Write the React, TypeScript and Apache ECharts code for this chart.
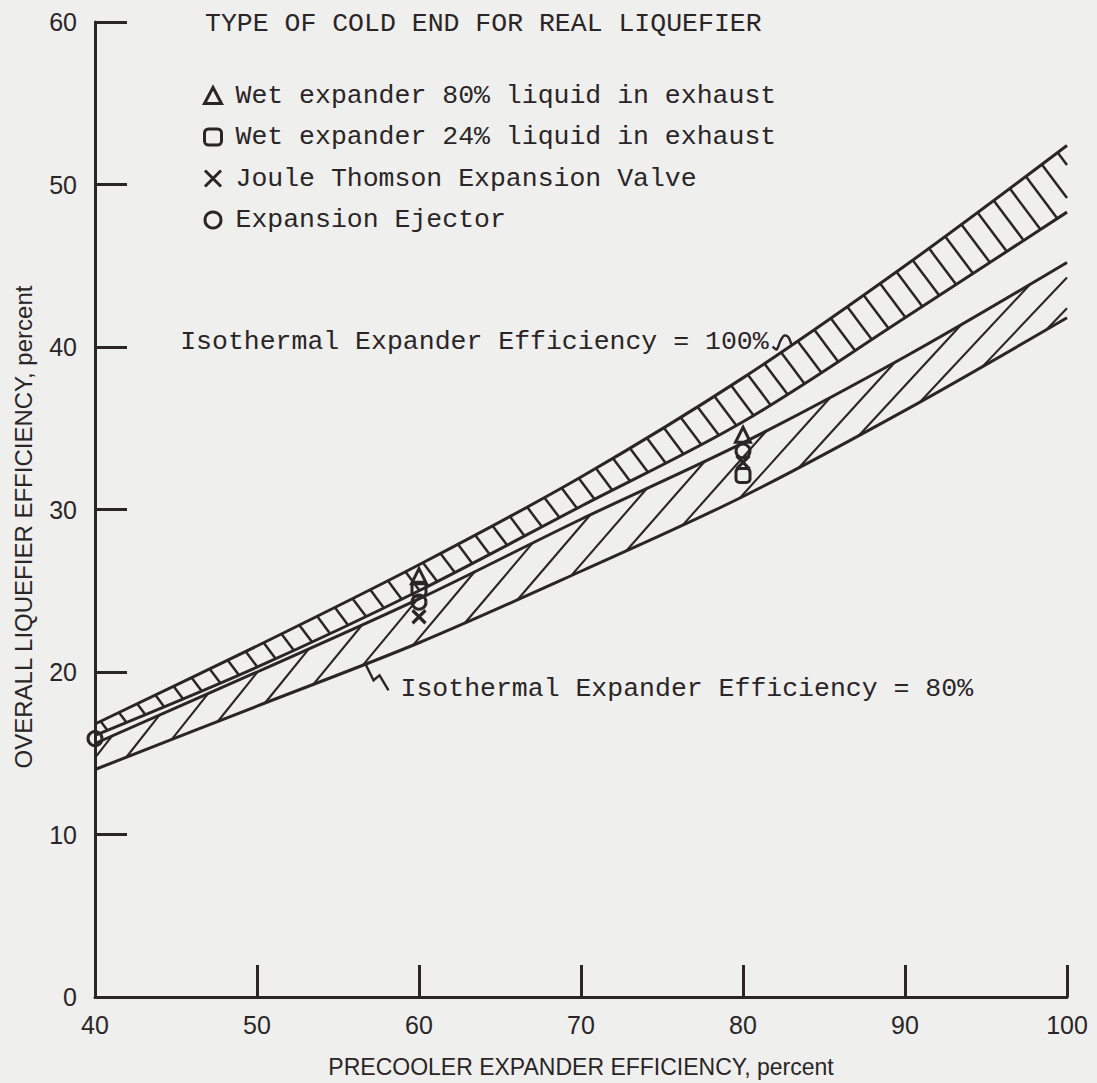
import React, { useEffect, useRef } from 'react';
import * as echarts from 'echarts';

// ---- data ----
const xValues = [40, 50, 60, 70, 80, 90, 100];
// Isothermal expander efficiency = 100% band
const upperTop = [16.8, 21.6, 26.6, 32.0, 38.1, 45.0, 52.4];
const upperBottom = [16.1, 20.3, 25.0, 30.2, 35.4, 41.8, 48.3];
// Isothermal expander efficiency = 80% band
const lowerTop = [15.6, 20.0, 24.5, 29.4, 34.1, 39.4, 45.2];
const lowerBottom = [14.0, 17.9, 21.8, 26.2, 30.8, 36.1, 41.8];

const wet80 = [[60, 25.9], [80, 34.6]];
const wet24 = [[60, 25.1], [80, 32.1]];
const jouleThomson = [[60, 23.4], [80, 32.9]];
const ejector = [[40, 15.9], [60, 24.3], [80, 33.6]];

const seriesNames = [
  'Wet expander 80% liquid in exhaust',
  'Wet expander 24% liquid in exhaust',
  'Joule Thomson Expansion Valve',
  'Expansion Ejector',
];
const titleText = 'TYPE OF COLD END FOR REAL LIQUEFIER';
const xTitle = 'PRECOOLER EXPANDER EFFICIENCY, percent';
const yTitle = 'OVERALL LIQUEFIER EFFICIENCY, percent';
const label100 = 'Isothermal Expander Efficiency = 100%';
const label80 = 'Isothermal Expander Efficiency = 80%';

const INK = '#2a2527';
const BG = '#efefed';
const MONO = "'Liberation Mono', 'DejaVu Sans Mono', monospace";
const NARROW = "'Liberation Sans Narrow', 'Liberation Sans', Arial, sans-serif";

// Catmull-Rom evaluation matching ECharts smooth = 1/3 on uniform x
function curveAt(ys: number[], x: number): number {
  const h = xValues[1] - xValues[0];
  const n = ys.length;
  let i = Math.floor((x - xValues[0]) / h);
  i = Math.max(0, Math.min(n - 2, i));
  const t = (x - xValues[i]) / h;
  const p1 = ys[i];
  const p2 = ys[i + 1];
  const p0 = i > 0 ? ys[i - 1] : 2 * p1 - p2;
  const p3 = i + 2 < n ? ys[i + 2] : 2 * p2 - p1;
  return 0.5 * (2 * p1 + (-p0 + p2) * t + (2 * p0 - 5 * p1 + 4 * p2 - p3) * t * t + (-p0 + 3 * p1 - 3 * p2 + p3) * t * t * t);
}

function solve(f: (x: number) => number, a: number, b: number): number {
  let fa = f(a);
  for (let k = 0; k < 40; k++) {
    const m = (a + b) / 2;
    const fm = f(m);
    if (fm > 0 === fa > 0) {
      a = m;
      fa = fm;
    } else {
      b = m;
    }
  }
  return (a + b) / 2;
}

const zip = (ys: number[]) => xValues.map((x, i) => [x, ys[i]]);

export default function App() {
  const ref = useRef<HTMLDivElement>(null);

  useEffect(() => {
    if (!ref.current) return;
    const chart = echarts.init(ref.current, null, { renderer: 'svg' });

    const hatchRender = (params: any, api: any) => {
      const children: any[] = [];
      const P = (x: number, y: number) => api.coord([x, y]);
      const xLeft = api.coord([40, 0])[0];
      const xRight = api.coord([100, 0])[0];
      // upper band: "\" rungs
      const k = 0.75;
      for (let x = 40.35; x < 100; x += 1.13 - 0.0025 * (x - 40)) {
        const top = P(x, curveAt(upperTop, x));
        const f = (xb: number) => {
          const b = P(xb, curveAt(upperBottom, xb));
          return b[1] - (top[1] + (b[0] - top[0]) / k);
        };
        const xb = solve(f, x, x + 6);
        let bot = P(xb, curveAt(upperBottom, xb));
        if (bot[0] > xRight) bot = [xRight, top[1] + (xRight - top[0]) / k];
        children.push({
          type: 'line',
          shape: { x1: top[0], y1: top[1], x2: bot[0], y2: bot[1] },
          style: { stroke: INK, lineWidth: 2.5 },
        });
      }
      // lower band: "/" hatch
      for (let x = 39.2; x < 100; x += 2.75 + 0.022 * (x - 40)) {
        const ang = ((52 - 0.1 * (x - 40)) * Math.PI) / 180;
        const tn = Math.tan(ang);
        let b = P(x, curveAt(lowerBottom, x));
        const f = (xt: number) => {
          const t = P(xt, curveAt(lowerTop, xt));
          return t[1] - (b[1] - (t[0] - b[0]) * tn);
        };
        const xt = solve(f, x, x + 12);
        let t = P(xt, curveAt(lowerTop, xt));
        if (t[0] > xRight) t = [xRight, b[1] - (xRight - b[0]) * tn];
        if (b[0] < xLeft) b = [xLeft, b[1] - (xLeft - b[0]) * tn];
        if (t[0] <= b[0]) continue;
        children.push({
          type: 'line',
          shape: { x1: b[0], y1: b[1], x2: t[0], y2: t[1] },
          style: { stroke: INK, lineWidth: 2.1 },
        });
      }
      return { type: 'group', children };
    };

    const annotRender = (params: any, api: any) => {
      const ax = 83.0;
      const A = api.coord([ax, curveAt(upperTop, ax)]);
      const bx = 56.7;
      const B = api.coord([bx, curveAt(lowerBottom, bx)]);
      const sq1 = [[-19, 1], [-15, 4], [-11, -5], [-7, -10], [-3, -8], [0, 0]].map(([dx, dy]) => [A[0] + dx, A[1] + dy]);
      const sq2 = [[0, 0], [8, 16], [14, 11], [23, 26]].map(([dx, dy]) => [B[0] + dx, B[1] + dy]);
      return {
        type: 'group',
        children: [
          { type: 'polyline', shape: { points: sq1, smooth: 0.3 }, style: { stroke: INK, lineWidth: 2.4, fill: 'none' } },
          { type: 'polyline', shape: { points: sq2 }, style: { stroke: INK, lineWidth: 2.4, fill: 'none' } },
          {
            type: 'text',
            x: A[0] - 23,
            y: A[1] - 3,
            style: { text: label100, fontFamily: MONO, fontSize: 26.5, fill: INK, textAlign: 'right', textVerticalAlign: 'middle' },
          },
          {
            type: 'text',
            x: B[0] + 35,
            y: B[1] + 25,
            style: { text: label80, fontFamily: MONO, fontSize: 26.5, fill: INK, textAlign: 'left', textVerticalAlign: 'middle' },
          },
        ],
      };
    };

    const lineSeries = (name: string, ys: number[]) => ({
      name,
      type: 'line',
      data: zip(ys),
      smooth: 1 / 3,
      symbol: 'none',
      silent: true,
      lineStyle: { color: INK, width: 3 },
      z: 3,
    });

    const markerStyle = { color: 'rgba(0,0,0,0)', borderColor: INK, borderWidth: 3, opacity: 1 };

    const option: any = {
      animation: false,
      backgroundColor: BG,
      title: {
        text: titleText,
        left: 205,
        top: 10,
        padding: 0,
        textStyle: { fontFamily: MONO, fontSize: 26.5, fontWeight: 'normal', color: INK, lineHeight: 27 },
      },
      legend: {
        orient: 'vertical',
        left: 198,
        top: 77,
        itemWidth: 17,
        itemHeight: 16,
        itemGap: 14.5,
        selectedMode: false,
        data: seriesNames,
        itemStyle: { color: 'inherit', borderColor: 'inherit', borderWidth: 3, opacity: 1 },
        textStyle: { fontFamily: MONO, fontSize: 26.5, color: INK, lineHeight: 26, padding: [0, 0, 0, 9] },
      },
      grid: { left: 95, right: 30, top: 22, bottom: 86 },
      xAxis: {
        type: 'value',
        min: 40,
        max: 100,
        interval: 10,
        axisLine: { show: true, lineStyle: { color: INK, width: 3 } },
        axisTick: { show: true, inside: true, length: 32, lineStyle: { color: INK, width: 3 } },
        splitLine: { show: false },
        axisLabel: { color: INK, fontFamily: NARROW, fontSize: 25, margin: 15 },
      },
      yAxis: {
        type: 'value',
        min: 0,
        max: 60,
        interval: 10,
        axisLine: { show: true, lineStyle: { color: INK, width: 3 } },
        axisTick: { show: true, inside: true, length: 32, lineStyle: { color: INK, width: 3 } },
        splitLine: { show: false },
        axisLabel: { color: INK, fontFamily: NARROW, fontSize: 25, margin: 18 },
      },
      graphic: [
        {
          type: 'text',
          x: 23,
          y: 527,
          rotation: Math.PI / 2,
          style: { text: yTitle, fontFamily: NARROW, fontSize: 24, fill: INK, textAlign: 'center', textVerticalAlign: 'middle' },
        },
        {
          type: 'text',
          x: 581,
          y: 1067,
          style: { text: xTitle, fontFamily: NARROW, fontSize: 23, fill: INK, textAlign: 'center', textVerticalAlign: 'middle' },
        },
      ],
      series: [
        {
          name: 'hatch',
          type: 'custom',
          renderItem: hatchRender,
          data: [[70, 30]],
          silent: true,
          z: 2,
        },
        lineSeries('100% upper', upperTop),
        lineSeries('100% lower', upperBottom),
        lineSeries('80% upper', lowerTop),
        lineSeries('80% lower', lowerBottom),
        {
          name: 'annotations',
          type: 'custom',
          renderItem: annotRender,
          data: [[70, 30]],
          silent: true,
          z: 4,
        },
        { name: seriesNames[0], type: 'scatter', data: wet80, symbol: 'triangle', symbolSize: 15, itemStyle: markerStyle, z: 5 },
        { name: seriesNames[1], type: 'scatter', data: wet24, symbol: 'roundRect', symbolSize: 14, itemStyle: markerStyle, z: 5 },
        {
          name: seriesNames[2],
          type: 'scatter',
          data: jouleThomson,
          symbol: 'path://M0,0L10,10M10,0L0,10',
          symbolSize: 13,
          itemStyle: { ...markerStyle, borderWidth: 3.2 },
          z: 5,
        },
        { name: seriesNames[3], type: 'scatter', data: ejector, symbol: 'circle', symbolSize: 14, itemStyle: markerStyle, z: 5 },
      ],
    };

    chart.setOption(option);
    return () => chart.dispose();
  }, []);

  return (
    <div
      ref={ref}
      style={{ position: 'fixed', left: 0, top: 0, width: 1097, height: 1083, background: BG }}
    />
  );
}
